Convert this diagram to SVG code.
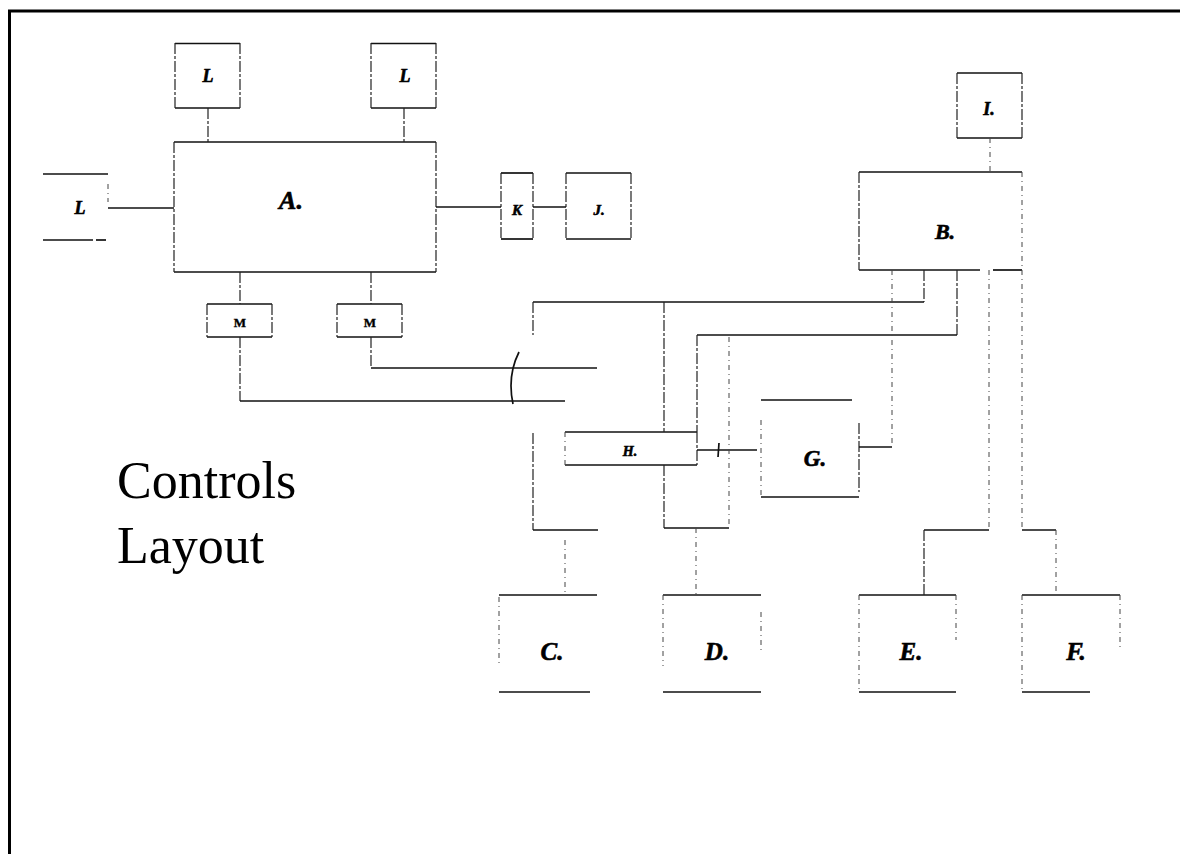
<svg xmlns="http://www.w3.org/2000/svg" width="1180" height="854" viewBox="0 0 1180 854">
  <style>
    .h { stroke: #111; stroke-width: 1.7; fill: none; }
    .v { stroke: #222; stroke-width: 1.2; fill: none; stroke-dasharray: 11 2 3 2; }
    .vf { stroke: #444; stroke-width: 1; fill: none; stroke-dasharray: 5 4 1 4; }
    .lbl { font-family: "Liberation Serif", "Times New Roman", serif; font-weight: bold; font-style: italic; fill: #000; stroke: #000; stroke-width: 0.6; text-anchor: middle; }
    .m { font-family: "Liberation Serif", "Times New Roman", serif; font-weight: bold; font-size: 13px; fill: #000; stroke: #000; stroke-width: 0.4; text-anchor: middle; }
    .title { font-family: "Liberation Serif", "Times New Roman", serif; font-size: 52px; fill: #000; }
  </style>

  <rect x="0" y="0" width="1180" height="854" fill="#fff"/>

  <!-- sheet frame -->
  <g id="frame">
    <line x1="8" y1="11" x2="1180" y2="11" stroke="#000" stroke-width="3"/>
    <line x1="9.5" y1="10" x2="9.5" y2="854" stroke="#000" stroke-width="3"/>
  </g>

  <!-- units -->
  <g id="node-L1">
    <line class="h" x1="175" y1="43.5" x2="240" y2="43.5"/>
    <line class="h" x1="175" y1="108" x2="240" y2="108"/>
    <line class="v" x1="175" y1="43" x2="175" y2="108"/>
    <line class="v" x1="240" y1="43" x2="240" y2="108"/>
    <text class="lbl" x="208" y="82" font-size="18">L</text>
  </g>
  <g id="node-L2">
    <line class="h" x1="371" y1="43.5" x2="436" y2="43.5"/>
    <line class="h" x1="371" y1="108" x2="436" y2="108"/>
    <line class="v" x1="371" y1="43" x2="371" y2="108"/>
    <line class="v" x1="436" y1="43" x2="436" y2="108"/>
    <text class="lbl" x="405" y="82" font-size="18">L</text>
  </g>
  <g id="node-L3">
    <line class="h" x1="43" y1="174" x2="108" y2="174"/>
    <line class="h" x1="43" y1="240" x2="93" y2="240"/>
    <line class="h" x1="96" y1="240" x2="106" y2="240"/>
    <line class="vf" x1="108" y1="184" x2="108" y2="202"/>
    <text class="lbl" x="80" y="214" font-size="18">L</text>
  </g>
  <g id="node-A">
    <line class="h" x1="174" y1="142" x2="436" y2="142"/>
    <line class="h" x1="174" y1="272" x2="436" y2="272"/>
    <line class="v" x1="174" y1="142" x2="174" y2="272"/>
    <line class="v" x1="436" y1="142" x2="436" y2="272"/>
    <text class="lbl" x="291" y="209" font-size="26">A.</text>
  </g>
  <g id="node-K">
    <line class="h" x1="501" y1="173" x2="533" y2="173"/>
    <line class="h" x1="501" y1="239" x2="533" y2="239"/>
    <line class="v" x1="501" y1="173" x2="501" y2="239"/>
    <line class="v" x1="533" y1="173" x2="533" y2="239"/>
    <text class="lbl" x="517" y="215" font-size="15">K</text>
  </g>
  <g id="node-J">
    <line class="h" x1="566" y1="173" x2="631" y2="173"/>
    <line class="h" x1="566" y1="239" x2="631" y2="239"/>
    <line class="v" x1="566" y1="173" x2="566" y2="239"/>
    <line class="v" x1="631" y1="173" x2="631" y2="239"/>
    <text class="lbl" x="599" y="215" font-size="15">J.</text>
  </g>
  <g id="node-I">
    <line class="h" x1="957" y1="73" x2="1022" y2="73"/>
    <line class="h" x1="957" y1="138" x2="1022" y2="138"/>
    <line class="v" x1="957" y1="73" x2="957" y2="138"/>
    <line class="v" x1="1022" y1="73" x2="1022" y2="138"/>
    <text class="lbl" x="989" y="115" font-size="18">I.</text>
  </g>
  <g id="node-B">
    <line class="h" x1="859" y1="172" x2="1022" y2="172"/>
    <line class="h" x1="859" y1="270" x2="980" y2="270"/>
    <line class="h" x1="993" y1="270" x2="1022" y2="270"/>
    <line class="v" x1="859" y1="172" x2="859" y2="270"/>
    <line class="vf" x1="1022" y1="172" x2="1022" y2="270"/>
    <text class="lbl" x="945" y="239" font-size="22">B.</text>
  </g>
  <g id="node-M1">
    <line class="h" x1="207" y1="304" x2="272" y2="304"/>
    <line class="h" x1="207" y1="337" x2="272" y2="337"/>
    <line class="v" x1="207" y1="304" x2="207" y2="337"/>
    <line class="v" x1="272" y1="304" x2="272" y2="337"/>
    <text class="m" x="240" y="327">M</text>
  </g>
  <g id="node-M2">
    <line class="h" x1="337" y1="304" x2="402" y2="304"/>
    <line class="h" x1="337" y1="337" x2="402" y2="337"/>
    <line class="v" x1="337" y1="304" x2="337" y2="337"/>
    <line class="v" x1="402" y1="304" x2="402" y2="337"/>
    <text class="m" x="370" y="327">M</text>
  </g>
  <g id="node-H">
    <line class="h" x1="565" y1="432" x2="697" y2="432"/>
    <line class="h" x1="565" y1="465" x2="697" y2="465"/>
    <line class="vf" x1="565" y1="432" x2="565" y2="465"/>
    <line class="v" x1="697" y1="432" x2="697" y2="465"/>
    <text class="lbl" x="630" y="456" font-size="14">H.</text>
  </g>
  <g id="node-G">
    <line class="h" x1="761" y1="400" x2="852" y2="400"/>
    <line class="h" x1="761" y1="497" x2="859" y2="497"/>
    <line class="vf" x1="761" y1="420" x2="761" y2="497"/>
    <line class="v" x1="859" y1="423" x2="859" y2="492"/>
    <text class="lbl" x="815" y="466" font-size="23">G.</text>
  </g>
  <g id="node-C">
    <line class="h" x1="499" y1="595" x2="597" y2="595"/>
    <line class="h" x1="499" y1="692" x2="590" y2="692"/>
    <line class="vf" x1="499" y1="597" x2="499" y2="666"/>
    <text class="lbl" x="552" y="660" font-size="25">C.</text>
  </g>
  <g id="node-D">
    <line class="h" x1="663" y1="595" x2="761" y2="595"/>
    <line class="h" x1="663" y1="692" x2="761" y2="692"/>
    <line class="vf" x1="663" y1="595" x2="663" y2="666"/>
    <line class="vf" x1="761" y1="612" x2="761" y2="650"/>
    <text class="lbl" x="717" y="660" font-size="25">D.</text>
  </g>
  <g id="node-E">
    <line class="h" x1="859" y1="595" x2="956" y2="595"/>
    <line class="h" x1="859" y1="692" x2="956" y2="692"/>
    <line class="vf" x1="859" y1="595" x2="859" y2="692"/>
    <line class="vf" x1="956" y1="595" x2="956" y2="640"/>
    <text class="lbl" x="911" y="660" font-size="25">E.</text>
  </g>
  <g id="node-F">
    <line class="h" x1="1022" y1="595" x2="1120" y2="595"/>
    <line class="h" x1="1022" y1="692" x2="1090" y2="692"/>
    <line class="vf" x1="1022" y1="595" x2="1022" y2="692"/>
    <line class="vf" x1="1120" y1="595" x2="1120" y2="650"/>
    <text class="lbl" x="1076" y="660" font-size="25">F.</text>
  </g>

  <!-- wiring between units -->
  <g id="connectors">
    <line class="v" x1="208" y1="108" x2="208" y2="142"/>
    <line class="v" x1="404" y1="108" x2="404" y2="142"/>
    <line class="h" x1="108" y1="208" x2="174" y2="208"/>
    <line class="h" x1="436" y1="207" x2="501" y2="207"/>
    <line class="h" x1="533" y1="207" x2="566" y2="207"/>
    <line class="vf" x1="990" y1="138" x2="990" y2="172"/>

    <line class="v" x1="240" y1="272" x2="240" y2="304"/>
    <line class="v" x1="371" y1="272" x2="371" y2="304"/>
    <polyline class="v" points="240,337 240,401"/>
    <line class="h" x1="240" y1="401" x2="565" y2="401"/>
    <polyline class="v" points="371,337 371,368"/>
    <line class="h" x1="371" y1="368" x2="597" y2="368"/>
    <path class="h" stroke-width="1.2" d="M519,352 Q507,376 513,404"/>

    <line class="v" x1="924" y1="270" x2="924" y2="302"/>
    <line class="h" x1="533" y1="302" x2="924" y2="302"/>
    <line class="v" x1="533" y1="302" x2="533" y2="335"/>
    <line class="v" x1="664" y1="302" x2="664" y2="432"/>

    <line class="v" x1="957" y1="270" x2="957" y2="335"/>
    <line class="h" x1="697" y1="335" x2="957" y2="335"/>
    <line class="v" x1="697" y1="335" x2="697" y2="432"/>

    <line class="vf" x1="892" y1="270" x2="892" y2="447"/>
    <line class="h" x1="859" y1="447" x2="892" y2="447"/>

    <line class="h" x1="697" y1="450" x2="757" y2="450"/>
    <line class="h" stroke-width="1" x1="719" y1="443" x2="718" y2="457"/>

    <line class="vf" x1="729" y1="337" x2="729" y2="528"/>
    <line class="v" x1="664" y1="465" x2="664" y2="528"/>
    <line class="h" x1="664" y1="528" x2="729" y2="528"/>
    <line class="vf" x1="696" y1="528" x2="696" y2="595"/>

    <line class="v" x1="533" y1="433" x2="533" y2="530"/>
    <line class="h" x1="533" y1="530" x2="598" y2="530"/>
    <line class="vf" x1="565" y1="540" x2="565" y2="595"/>

    <line class="vf" x1="989" y1="270" x2="989" y2="530"/>
    <line class="h" x1="924" y1="530" x2="989" y2="530"/>
    <line class="v" x1="924" y1="530" x2="924" y2="595"/>

    <line class="vf" x1="1022" y1="270" x2="1022" y2="530"/>
    <line class="h" x1="1022" y1="530" x2="1056" y2="530"/>
    <line class="vf" x1="1056" y1="530" x2="1056" y2="595"/>
  </g>

  <g id="caption">
    <text class="title" x="117" y="498">Controls</text>
    <text class="title" x="117" y="563">Layout</text>
  </g>
</svg>
